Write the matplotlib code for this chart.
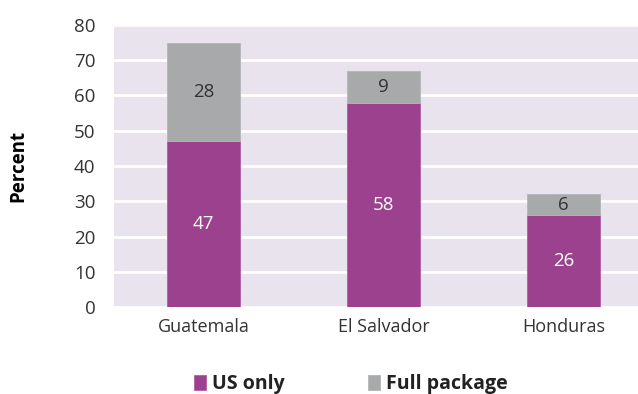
import matplotlib
matplotlib.use("Agg")
import matplotlib.pyplot as plt
import numpy as np

categories = ["Guatemala", "El Salvador", "Honduras"]
us_only = [47, 58, 26]
full_package = [28, 9, 6]
yticks = [0, 10, 20, 30, 40, 50, 60, 70, 80]

purple = "#9C418E"
gray = "#A8A9AB"
bg = "#E8E3EC"
txt = "#333333"

plt.rcParams['font.family'] = ['Open Sans', 'DejaVu Sans']

fig = plt.figure(figsize=(6.38, 3.94), dpi=100)
ax = fig.add_axes([113.5/638, 87/394, 540/638, 282/394])
ax.set_facecolor(bg)
x = np.arange(len(categories))
w = 0.405
b1 = ax.bar(x, us_only, w, color=purple, edgecolor="#B35DA6", linewidth=0.6, label="US only", zorder=3)
b2 = ax.bar(x, full_package, w, bottom=us_only, color=gray, edgecolor="#B5B6B8", linewidth=0.6, label="Full package", zorder=3)

for i in range(len(categories)):
    ax.text(x[i], us_only[i]/2, str(us_only[i]), ha="center", va="center", color="white", fontsize=13.5, zorder=4)
    ax.text(x[i], us_only[i] + full_package[i]/2, str(full_package[i]), ha="center", va="center", color=txt, fontsize=13.5, zorder=4)

ax.set_xlim(-0.5, 2.5)
ax.set_ylim(0, 80)
ax.set_yticks(yticks)
ax.set_yticklabels([str(t) for t in yticks], color=txt, fontsize=13.5)
ax.set_xticks(x)
ax.set_xticklabels(categories, color=txt, fontsize=13)
ax.tick_params(axis="both", length=0)
ax.tick_params(axis="y", pad=13)
ax.tick_params(axis="x", pad=8)
for s in ax.spines.values():
    s.set_visible(False)
ax.yaxis.grid(True, color="white", linewidth=2, zorder=1)
ax.set_axisbelow(True)
ax.set_ylabel("Percent", fontsize=13.5, fontweight="bold", color="black", labelpad=33)

leg = fig.legend(handles=[b1, b2], labels=["US only", "Full package"], loc="center",
                 bbox_to_anchor=(351/638, 1 - 384/394), ncol=2, frameon=False,
                 prop={"weight": "bold", "size": 14}, handlelength=0.6, handleheight=0.8,
                 handletextpad=0.3, columnspacing=4.3)
for t in leg.get_texts():
    t.set_color("#222222")

fig.savefig("out.png", dpi=100)
